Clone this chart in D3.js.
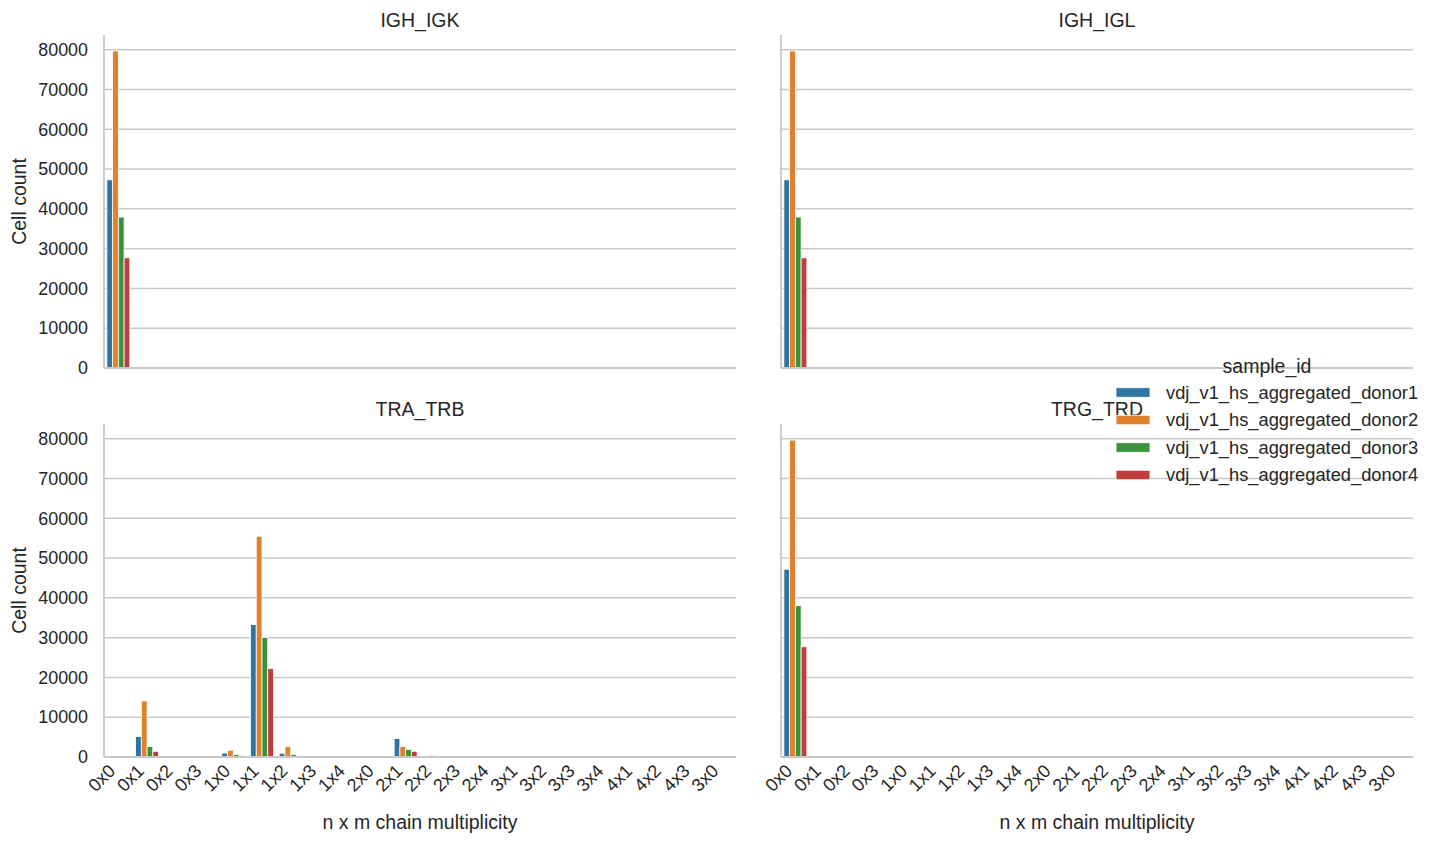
<!DOCTYPE html>
<html>
<head>
<meta charset="utf-8">
<script src="https://cdn.jsdelivr.net/npm/d3@7.9.0/dist/d3.min.js"></script>
<style>
  body { margin: 0; background: #fff; }
  svg { font-family: "Liberation Sans", Arial, sans-serif; }
  text { fill: #262626; }
</style>
</head>
<body>
<svg id="chart" width="1436" height="844"></svg>
<script>
// n x m chain multiplicity categories
const categories = ['0x0', '0x1', '0x2', '0x3', '1x0', '1x1', '1x2', '1x3', '1x4', '2x0', '2x1',
  '2x2', '2x3', '2x4', '3x1', '3x2', '3x3', '3x4', '4x1', '4x2', '4x3', '3x0'];

const donors = ['vdj_v1_hs_aggregated_donor1', 'vdj_v1_hs_aggregated_donor2',
  'vdj_v1_hs_aggregated_donor3', 'vdj_v1_hs_aggregated_donor4'];

const chainTypes = ['IGH_IGK', 'IGH_IGL', 'TRA_TRB', 'TRG_TRD'];

// counts per category, one value per donor
const onlyEmpty = [47300, 79700, 37950, 27700];
const zeros = [0, 0, 0, 0];

const ighIgk = categories.map((c, i) => i === 0 ? onlyEmpty : zeros);
const ighIgl = categories.map((c, i) => i === 0 ? onlyEmpty : zeros);
const trgTrd = categories.map((c, i) => i === 0 ? [47200, 79650, 38050, 27700] : zeros);

const traTrb = [
  [0, 0, 0, 0],             // 0x0
  [5150, 14100, 2650, 1440], // 0x1
  [20, 120, 20, 20],         // 0x2
  [0, 0, 0, 0],             // 0x3
  [1000, 1700, 650, 400],    // 1x0
  [33300, 55500, 30050, 22200], // 1x1
  [950, 2650, 620, 340],     // 1x2
  [0, 0, 0, 0],             // 1x3
  [0, 0, 0, 0],             // 1x4
  [0, 0, 0, 0],             // 2x0
  [4650, 2650, 1900, 1440],  // 2x1
  [110, 420, 110, 110],      // 2x2
  [0, 0, 0, 0], [0, 0, 0, 0], [0, 0, 0, 0], [0, 0, 0, 0], [0, 0, 0, 0],
  [0, 0, 0, 0], [0, 0, 0, 0], [0, 0, 0, 0], [0, 0, 0, 0], [0, 0, 0, 0]
];

const panelData = { IGH_IGK: ighIgk, IGH_IGL: ighIgl, TRA_TRB: traTrb, TRG_TRD: trgTrd };

const yTicks = [0, 10000, 20000, 30000, 40000, 50000, 60000, 70000, 80000];
const colors = ['#3274a1', '#e1812c', '#3a923a', '#c03d3e'];

const svg = d3.select('#chart');

const cols = [[104, 736], [781, 1413]];
const rows = [[35, 368], [424, 757]];

const y0 = d3.scaleLinear().domain([0, 83700]);

chainTypes.forEach((name, k) => {
  const [left, right] = cols[k % 2];
  const [top, bottom] = rows[Math.floor(k / 2)];
  const isLeft = k % 2 === 0;
  const isBottom = k >= 2;

  const x = d3.scaleBand().domain(categories).range([left, right]);
  const xHue = d3.scaleBand().domain(donors)
    .range([x.bandwidth() * 0.1, x.bandwidth() * 0.9]);
  const y = y0.copy().range([bottom, top]);

  const g = svg.append('g');

  // grid
  g.selectAll('line.grid')
    .data(yTicks)
    .join('line')
    .attr('x1', left).attr('x2', right)
    .attr('y1', d => y(d)).attr('y2', d => y(d))
    .attr('stroke', '#c8c8c8')
    .attr('stroke-width', 1.5);

  // bars
  const rowsData = panelData[name];
  const bars = [];
  categories.forEach((c, i) => {
    donors.forEach((dn, j) => {
      if (rowsData[i][j] > 0) bars.push({ c, dn, j, v: rowsData[i][j] });
    });
  });
  g.selectAll('rect.bar')
    .data(bars)
    .join('rect')
    .attr('x', d => x(d.c) + xHue(d.dn))
    .attr('width', xHue.bandwidth())
    .attr('y', d => y(d.v))
    .attr('height', d => y(0) - y(d.v))
    .attr('fill', d => colors[d.j])
    .attr('stroke', '#fff')
    .attr('stroke-width', 0.8);

  // spines
  g.append('line')
    .attr('x1', left).attr('x2', left).attr('y1', top).attr('y2', bottom)
    .attr('stroke', '#c8c8c8').attr('stroke-width', 1.8);
  g.append('line')
    .attr('x1', left).attr('x2', right).attr('y1', bottom).attr('y2', bottom)
    .attr('stroke', '#c8c8c8').attr('stroke-width', 1.8);

  // title
  g.append('text')
    .attr('x', (left + right) / 2)
    .attr('y', top - 8)
    .attr('text-anchor', 'middle')
    .style('font-size', '19.5px')
    .text(name);

  if (isLeft) {
    g.selectAll('text.ytick')
      .data(yTicks)
      .join('text')
      .attr('x', left - 16)
      .attr('y', d => y(d))
      .attr('dy', '0.35em')
      .attr('text-anchor', 'end')
      .style('font-size', '17.9px')
      .text(d => d);

    g.append('text')
      .attr('transform', `translate(26,${(top + bottom) / 2}) rotate(-90)`)
      .attr('text-anchor', 'middle')
      .style('font-size', '19.5px')
      .text('Cell count');
  }

  if (isBottom) {
    g.selectAll('text.xtick')
      .data(categories)
      .join('text')
      .attr('transform', d => `translate(${x(d) + x.bandwidth() / 2 - 2},${bottom + 15}) rotate(-45)`)
      .attr('text-anchor', 'end')
      .style('font-size', '18.1px')
      .text(d => d);

    g.append('text')
      .attr('x', (left + right) / 2)
      .attr('y', bottom + 72)
      .attr('text-anchor', 'middle')
      .style('font-size', '19.5px')
      .text('n x m chain multiplicity');
  }
});

// legend
const legend = svg.append('g');
legend.append('text')
  .attr('x', 1267).attr('y', 373)
  .attr('text-anchor', 'middle')
  .style('font-size', '19.5px')
  .text('sample_id');

const items = legend.selectAll('g.item')
  .data(donors)
  .join('g')
  .attr('transform', (d, i) => `translate(1116,${392.5 + i * 27.5})`);
items.append('rect')
  .attr('x', 0).attr('y', -4.75)
  .attr('width', 34).attr('height', 9.5)
  .attr('fill', (d, i) => colors[i])
  .attr('stroke', '#fff').attr('stroke-width', 0.8);
items.append('text')
  .attr('x', 50).attr('dy', '0.35em')
  .style('font-size', '18.3px')
  .text(d => d);
</script>
</body>
</html>
